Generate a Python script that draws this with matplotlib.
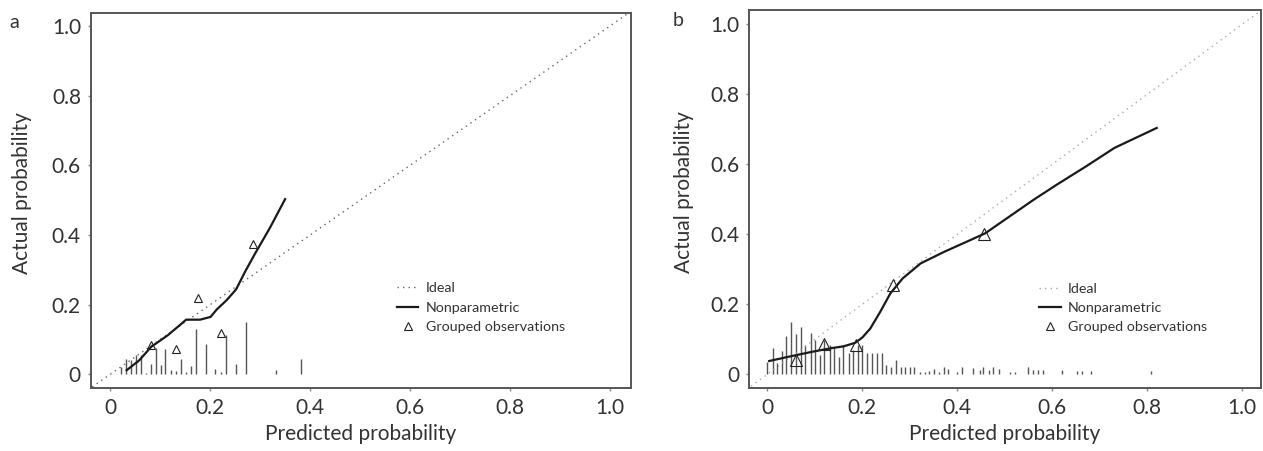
import matplotlib
matplotlib.use("Agg")
import matplotlib.pyplot as plt
from matplotlib.lines import Line2D

# ---- panel a data ----
a_curve_x = [0.033, 0.058, 0.082, 0.115, 0.139, 0.152, 0.164, 0.180, 0.201, 0.213,
             0.233, 0.252, 0.270, 0.290, 0.319, 0.350]
a_curve_y = [0.012, 0.040, 0.079, 0.112, 0.141, 0.157, 0.157, 0.157, 0.165, 0.186,
             0.213, 0.244, 0.295, 0.347, 0.419, 0.503]
a_group_x = [0.082, 0.131, 0.175, 0.222, 0.285]
a_group_y = [0.083, 0.074, 0.218, 0.119, 0.375]
a_rug_x = [0.021, 0.032, 0.041, 0.051, 0.061, 0.071, 0.081, 0.091, 0.101, 0.110, 0.121, 0.132,
           0.142, 0.152, 0.161, 0.172, 0.191, 0.210, 0.221, 0.232, 0.251, 0.272, 0.332, 0.381]
a_rug_h = [0.020, 0.044, 0.041, 0.057, 0.055, 0.005, 0.030, 0.075, 0.027, 0.072, 0.012, 0.010,
           0.043, 0.008, 0.024, 0.129, 0.086, 0.016, 0.008, 0.113, 0.030, 0.149, 0.012, 0.044]

# ---- panel b data ----
b_curve_x = [0.004, 0.051, 0.093, 0.136, 0.161, 0.185, 0.200, 0.217, 0.238, 0.259, 0.285,
             0.323, 0.374, 0.425, 0.459, 0.510, 0.561, 0.612, 0.671, 0.731, 0.820]
b_curve_y = [0.038, 0.052, 0.064, 0.075, 0.080, 0.090, 0.105, 0.131, 0.179, 0.231, 0.274,
             0.317, 0.351, 0.382, 0.403, 0.451, 0.499, 0.544, 0.594, 0.647, 0.704]
b_group_x = [0.060, 0.119, 0.186, 0.265, 0.457]
b_group_y = [0.041, 0.088, 0.084, 0.255, 0.402]
b_rug_x = [0.000, 0.011, 0.020, 0.030, 0.039, 0.050, 0.060, 0.070, 0.080, 0.091, 0.100, 0.110,
           0.120, 0.131, 0.141, 0.150, 0.160, 0.171, 0.181, 0.190, 0.200, 0.211, 0.221, 0.230,
           0.241, 0.251, 0.261, 0.271, 0.281, 0.291, 0.301, 0.308, 0.322, 0.332, 0.341, 0.351,
           0.361, 0.372, 0.381, 0.399, 0.410, 0.434, 0.447, 0.455, 0.466, 0.476, 0.487, 0.511,
           0.522, 0.550, 0.560, 0.571, 0.581, 0.620, 0.652, 0.663, 0.681, 0.809]
b_rug_h = [0.034, 0.074, 0.031, 0.068, 0.110, 0.150, 0.115, 0.136, 0.084, 0.117, 0.098, 0.055,
           0.098, 0.084, 0.074, 0.050, 0.084, 0.060, 0.070, 0.084, 0.084, 0.062, 0.062, 0.062,
           0.062, 0.027, 0.022, 0.041, 0.022, 0.020, 0.022, 0.022, 0.008, 0.008, 0.010, 0.016,
           0.008, 0.020, 0.014, 0.008, 0.020, 0.017, 0.012, 0.020, 0.012, 0.022, 0.014, 0.008,
           0.008, 0.022, 0.012, 0.012, 0.012, 0.012, 0.010, 0.010, 0.010, 0.010]

ticks = [0, 0.2, 0.4, 0.6, 0.8, 1.0]
tick_labels = ["0", "0.2", "0.4", "0.6", "0.8", "1.0"]
legend_labels = ["Ideal", "Nonparametric", "Grouped observations"]

plt.rcParams['font.family'] = ['Lato', 'DejaVu Sans']
txt = '#333333'


def draw_panel(ax, cx, cy, gx, gy, rx, rh, ideal_col, tri_size, xlim, ylim, leg_top, letter):
    ax.vlines(rx, 0, rh, color='#555555', linewidth=1.0, zorder=1)
    ideal, = ax.plot([-0.1, 1.1], [-0.1, 1.1], color=ideal_col, linestyle=(0, (1, 3)),
                     linewidth=1.0, zorder=2)
    curve, = ax.plot(cx, cy, color='#1a1a1a', linewidth=1.6, zorder=3)
    grp, = ax.plot(gx, gy, linestyle='none', marker='^', markersize=tri_size,
                   markerfacecolor='none', markeredgecolor='#222222',
                   markeredgewidth=0.8, zorder=4)
    ax.set_xlim(*xlim)
    ax.set_ylim(*ylim)
    ax.set_xticks(ticks)
    ax.set_xticklabels(tick_labels)
    ax.set_yticks(ticks)
    ax.set_yticklabels(tick_labels)
    ax.tick_params(labelsize=15, labelcolor=txt, color='#888888', length=2.5, width=1, pad=4.5)
    for s in ax.spines.values():
        s.set_color('#555555')
        s.set_linewidth(1.4)
    ax.set_xlabel('Predicted probability', fontsize=15, color=txt)
    ax.set_ylabel('Actual probability', fontsize=15, color=txt)
    ax.xaxis.set_label_coords(0.5, -0.095)
    ax.yaxis.set_label_coords(-0.108, 0.52)

    h_grp = Line2D([], [], linestyle='none', marker='^', markersize=6,
                   markerfacecolor='none', markeredgecolor='#222222', markeredgewidth=0.8)
    ax.legend([ideal, curve, h_grp], legend_labels, loc='upper left',
              bbox_to_anchor=(0.567, leg_top), frameon=False, fontsize=10.3,
              handlelength=1.5, handletextpad=0.5, labelspacing=0.5, labelcolor=txt,
              borderaxespad=0, borderpad=0)
    ax.text(letter[1], letter[2], letter[0], transform=ax.figure.transFigure,
            fontsize=14, color=txt, ha='center', va='center')


fig = plt.figure(figsize=(12.63, 4.51), dpi=100)
ax_a = fig.add_axes([0.0718, 0.139, 0.4278, 0.8328])
ax_b = fig.add_axes([0.5930, 0.139, 0.4052, 0.8388])

draw_panel(ax_a, a_curve_x, a_curve_y, a_group_x, a_group_y, a_rug_x, a_rug_h, '#666666', 5.5,
           (-0.039, 1.042), (-0.040, 1.038), 0.282, ('a', 14 / 1263, 1 - 23 / 451))
draw_panel(ax_b, b_curve_x, b_curve_y, b_group_x, b_group_y, b_rug_x, b_rug_h, '#aaaaaa', 9,
           (-0.0386, 1.039), (-0.040, 1.041), 0.278, ('b', 678 / 1263, 1 - 21 / 451))

fig.savefig('out.png', dpi=100)
